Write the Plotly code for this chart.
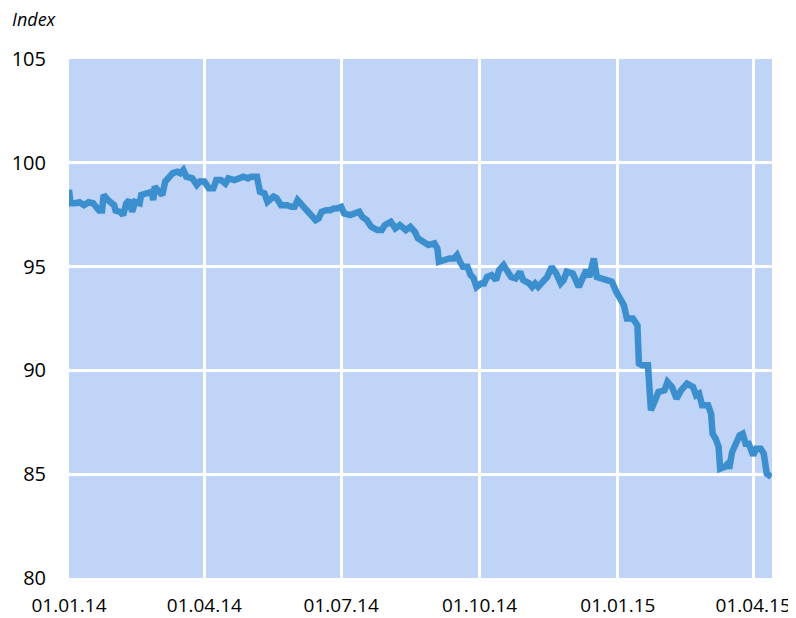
import plotly.graph_objects as go

dates = [
    "2014-01-01", "2014-01-02", "2014-01-05", "2014-01-08", "2014-01-11", "2014-01-14",
    "2014-01-17", "2014-01-21", "2014-01-23", "2014-01-24", "2014-01-27", "2014-01-31",
    "2014-02-01", "2014-02-04", "2014-02-06", "2014-02-08", "2014-02-10", "2014-02-12",
    "2014-02-14", "2014-02-17", "2014-02-18", "2014-02-22", "2014-02-25", "2014-02-26",
    "2014-02-27", "2014-03-02", "2014-03-04", "2014-03-06", "2014-03-08", "2014-03-11",
    "2014-03-14", "2014-03-16", "2014-03-18", "2014-03-20", "2014-03-24", "2014-03-27",
    "2014-03-29", "2014-04-01", "2014-04-04", "2014-04-07", "2014-04-09", "2014-04-12",
    "2014-04-15", "2014-04-17", "2014-04-21", "2014-04-23", "2014-04-27", "2014-04-30",
    "2014-05-02", "2014-05-06", "2014-05-08", "2014-05-11", "2014-05-13", "2014-05-17",
    "2014-05-19", "2014-05-22", "2014-05-26", "2014-05-29", "2014-05-31", "2014-06-02",
    "2014-06-06", "2014-06-08", "2014-06-11", "2014-06-14", "2014-06-16", "2014-06-18",
    "2014-06-21", "2014-06-24", "2014-06-26", "2014-06-28", "2014-07-01", "2014-07-03",
    "2014-07-07", "2014-07-13", "2014-07-15", "2014-07-18", "2014-07-21", "2014-07-25",
    "2014-07-28", "2014-07-30", "2014-08-03", "2014-08-06", "2014-08-09", "2014-08-13",
    "2014-08-16", "2014-08-19", "2014-08-21", "2014-08-25", "2014-08-28", "2014-09-01",
    "2014-09-03", "2014-09-04", "2014-09-07", "2014-09-11", "2014-09-14", "2014-09-16",
    "2014-09-18", "2014-09-20", "2014-09-23", "2014-09-25", "2014-09-27", "2014-09-29",
    "2014-10-02", "2014-10-04", "2014-10-06", "2014-10-09", "2014-10-12", "2014-10-14",
    "2014-10-17", "2014-10-19", "2014-10-22", "2014-10-25", "2014-10-28", "2014-10-30",
    "2014-11-03", "2014-11-05", "2014-11-07", "2014-11-09", "2014-11-12", "2014-11-15",
    "2014-11-18", "2014-11-21", "2014-11-24", "2014-11-26", "2014-11-28", "2014-12-02",
    "2014-12-04", "2014-12-06", "2014-12-08", "2014-12-11", "2014-12-13", "2014-12-15",
    "2014-12-16", "2014-12-18", "2014-12-22", "2014-12-25", "2014-12-28", "2014-12-31",
    "2015-01-03", "2015-01-05", "2015-01-07", "2015-01-11", "2015-01-14", "2015-01-15",
    "2015-01-17", "2015-01-21", "2015-01-23", "2015-01-26", "2015-01-28", "2015-02-01",
    "2015-02-03", "2015-02-06", "2015-02-09", "2015-02-12", "2015-02-16", "2015-02-20",
    "2015-02-22", "2015-02-24", "2015-02-26", "2015-03-02", "2015-03-04", "2015-03-05",
    "2015-03-07", "2015-03-09", "2015-03-10", "2015-03-13", "2015-03-15", "2015-03-16",
    "2015-03-18", "2015-03-21", "2015-03-23", "2015-03-25", "2015-03-27", "2015-03-29",
    "2015-04-01", "2015-04-03", "2015-04-06", "2015-04-08", "2015-04-10", "2015-04-13",
]

index_values = [
    98.70, 98.05, 98.05, 98.10, 97.96, 98.10,
    98.05, 97.70, 97.70, 98.45, 98.20, 97.96,
    97.70, 97.64, 97.48, 98.04, 98.20, 97.64,
    98.12, 98.05, 98.45, 98.53, 98.60, 98.20,
    98.85, 98.60, 98.45, 99.10, 99.25, 99.50,
    99.57, 99.50, 99.65, 99.33, 99.25, 98.93,
    99.10, 99.10, 98.77, 98.77, 99.17, 99.17,
    99.00, 99.25, 99.17, 99.25, 99.33, 99.25,
    99.33, 99.33, 98.60, 98.53, 98.12, 98.37,
    98.30, 97.96, 97.96, 97.88, 97.88, 98.20,
    97.88, 97.80, 97.48, 97.24, 97.32, 97.64,
    97.72, 97.72, 97.80, 97.80, 97.88, 97.56,
    97.48, 97.64, 97.40, 97.24, 96.92, 96.76,
    96.76, 97.00, 97.16, 96.84, 97.00, 96.76,
    96.92, 96.68, 96.36, 96.20, 96.04, 96.12,
    95.87, 95.23, 95.31, 95.39, 95.39, 95.55,
    95.23, 94.99, 94.99, 94.60, 94.45, 94.02,
    94.18, 94.18, 94.50, 94.59, 94.35, 94.83,
    95.07, 94.83, 94.50, 94.43, 94.75, 94.35,
    94.19, 94.02, 94.19, 94.02, 94.27, 94.50,
    94.99, 94.67, 94.19, 94.35, 94.75, 94.67,
    94.35, 94.02, 94.35, 94.83, 94.50, 95.31,
    95.39, 94.50, 94.43, 94.35, 94.27, 93.78,
    93.46, 93.14, 92.50, 92.50, 92.17, 90.33,
    90.25, 90.25, 88.08, 88.56, 88.96, 89.04,
    89.44, 89.20, 88.64, 89.04, 89.36, 89.20,
    88.80, 88.88, 88.32, 88.32, 87.92, 86.95,
    86.71, 86.31, 85.27, 85.35, 85.50, 85.27,
    86.07, 86.55, 86.87, 86.95, 86.47, 86.47,
    85.91, 86.23, 86.23, 85.99, 85.03, 84.87,
]

y_ticks = [80, 85, 90, 95, 100, 105]
x_range = ["2014-01-01", "2015-04-13 12:00"]
y_range = [80, 105]
y_title = "Index"

FONT = "Open Sans"

fig = go.Figure()
fig.add_trace(go.Scatter(
    x=dates, y=index_values, mode="lines",
    line=dict(color="rgb(59,143,206)", width=6.5),
    hoverinfo="x+y",
))

# page body adds an 8px offset, so the figure is sized to fill the rest of the window
fig.update_layout(
    width=788, height=610,
    margin=dict(l=61, r=24, t=51, b=40, autoexpand=False),
    paper_bgcolor="white",
    plot_bgcolor="rgb(192,212,248)",
    showlegend=False,
    font=dict(family=FONT, size=20, color="black"),
    annotations=[dict(
        text=y_title, xref="paper", yref="paper", x=0, y=1,
        xanchor="left", yanchor="middle", xshift=-59, yshift=40,
        showarrow=False, font=dict(family=FONT, size=18, color="black", style="italic"),
    )],
)
fig.update_xaxes(
    type="date", range=x_range, tick0="2014-01-01", dtick="M3",
    tickformat="%d.%m.%y", showgrid=True, gridcolor="white", gridwidth=2.5,
    zeroline=False, showline=False, ticks="", ticklabelstandoff=14, automargin=False,
    tickfont=dict(size=19),
)
fig.update_yaxes(
    range=y_range, tickvals=y_ticks, showgrid=True, gridcolor="white", gridwidth=2.5,
    zeroline=False, showline=False, ticks="", ticklabelstandoff=22, automargin=False,
)

fig.write_html("out.html")
